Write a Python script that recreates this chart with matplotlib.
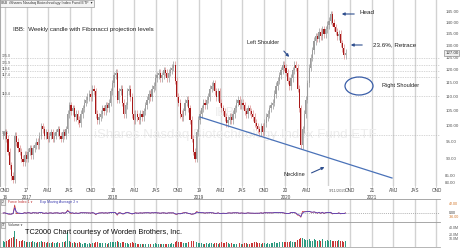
import numpy as np
import pandas as pd
import matplotlib
matplotlib.use('Agg')
import matplotlib.pyplot as plt
import matplotlib.dates as mdates
from matplotlib.patches import Ellipse

plt.rcParams['font.family'] = ['Liberation Sans', 'DejaVu Sans']

# IBB weekly closes (split adjusted), weeks ending 2016-09-23 .. 2020-09-11
closes = [
    97, 98, 96, 92, 88, 85, 84, 97, 95, 93,
    92, 90, 89, 91, 90, 92, 93, 91, 93, 94,
    95, 94, 97, 100, 99, 97, 98, 96, 97, 98,
    96, 97, 98, 99, 97, 96, 98, 97, 99, 104,
    107, 105, 106, 103, 104, 102, 101, 104, 106, 108,
    109, 110, 111, 110, 113, 112, 104, 102, 103, 104,
    106, 105, 107, 106, 108, 112, 115, 118, 119, 109,
    112, 113, 108, 104, 107, 112, 113, 110, 104, 102,
    104, 103, 102, 104, 103, 105, 107, 109, 111, 110,
    113, 114, 117, 118, 119, 117, 118, 120, 119, 117,
    119, 120, 121, 122, 116, 110, 108, 104, 103, 105,
    108, 109, 106, 102, 96, 92, 90, 98, 102, 104,
    106, 108, 107, 109, 110, 113, 114, 115, 112, 110,
    112, 108, 106, 105, 103, 101, 102, 103, 102, 104,
    106, 108, 109, 107, 108, 107, 105, 104, 106, 105,
    104, 103, 101, 100, 99, 98, 100, 98, 101, 103,
    104, 106, 107, 108, 111, 114, 116, 118, 120, 122,
    121, 119, 116, 114, 117, 120, 122, 121, 113, 106,
    94, 99, 104, 109, 115, 121, 125, 128, 132, 134,
    133, 136, 134, 137, 135, 137, 139, 141, 144, 140,
    138, 136, 134, 135, 131, 129, 126, 127,
]

volumes = [
    1.6, 1.4, 1.5, 1.8, 2.0, 2.4, 2.6, 4.2, 2.2, 1.8,
    1.7, 1.6, 1.9, 1.5, 1.3, 1.4, 1.2, 1.3, 1.5, 1.2,
    1.1, 1.2, 1.4, 1.6, 1.3, 1.2, 1.1, 1.3, 1.0, 1.1,
    1.2, 1.0, 1.1, 1.3, 1.1, 1.0, 1.2, 1.4, 1.5, 4.0,
    1.6, 1.3, 1.1, 1.2, 1.0, 1.1, 1.2, 1.0, 0.9, 1.0,
    1.1, 0.9, 1.0, 0.9, 1.1, 1.0, 1.4, 1.3, 1.1, 1.0,
    1.0, 0.9, 1.0, 0.9, 1.1, 1.2, 1.3, 1.2, 1.3, 1.5,
    1.2, 1.1, 1.3, 1.4, 1.1, 1.0, 0.9, 1.0, 1.2, 1.1,
    1.0, 0.9, 0.9, 0.8, 0.9, 0.8, 0.9, 1.0, 0.9, 0.8,
    0.9, 0.8, 1.0, 0.9, 0.8, 0.9, 0.8, 0.9, 0.8, 0.9,
    0.8, 0.9, 1.0, 0.9, 1.3, 1.5, 1.3, 1.4, 1.2, 1.1,
    1.0, 1.1, 1.2, 1.3, 1.5, 1.6, 1.4, 1.3, 1.1, 1.0,
    1.0, 0.9, 0.9, 1.0, 0.9, 1.0, 1.1, 0.9, 1.0, 1.0,
    0.9, 1.1, 1.2, 1.0, 1.1, 1.2, 1.0, 0.9, 1.0, 0.9,
    0.9, 0.8, 0.9, 1.0, 0.8, 0.9, 1.0, 1.1, 0.9, 0.8,
    1.0, 1.1, 1.2, 1.3, 1.1, 1.0, 0.9, 1.1, 1.0, 0.9,
    1.0, 0.9, 1.1, 1.0, 1.2, 1.1, 1.0, 1.3, 1.1, 1.2,
    1.2, 1.4, 1.3, 1.2, 1.5, 1.3, 1.4, 1.2, 1.8, 2.2,
    2.4, 2.3, 2.1, 1.9, 1.8, 2.0, 1.6, 1.5, 2.0, 1.8,
    1.6, 1.9, 1.5, 2.0, 1.7, 1.6, 1.9, 1.7, 1.8, 1.6,
    1.5, 1.7, 1.6, 1.8, 1.5, 1.6, 1.4, 1.5,
]

fib_levels = [125.0, 121.9, 119.6, 117.4, 110.4, 97.1]
price_ticks = [145, 140, 135, 130, 125, 120, 115, 110, 105, 100, 95, 90, 85, 83]

dates = pd.date_range('2016-09-23', periods=len(closes), freq='7D')
xd = mdates.date2num(dates)
c = np.array(closes, dtype=float)
o = np.r_[c[0], c[:-1]]
hi = np.maximum(o, c) * 1.012
lo = np.minimum(o, c) / 1.012
up = c >= o

# pixel <-> date scale of the screenshot
origin = mdates.date2num(pd.Timestamp('2016-10-01'))
ppd = 0.2363
xlim = (origin - 5 / ppd, origin + 435 / ppd)

W, H = 470, 248
fig = plt.figure(figsize=(4.7, 2.48), dpi=100)
fig.patch.set_facecolor('white')
AW = 440 / W

def box(top, bot):
    return [0, (H - bot) / H, AW, (bot - top) / H]

ax = fig.add_axes(box(0, 186))
ax.set_yscale('log')
ax.set_ylim(82.3, 150.8)
ax.set_xlim(*xlim)
ax.set_yticks([])
ax.minorticks_off()
ax.set_xticks([])
for s in ['top', 'right', 'bottom']:
    ax.spines[s].set_visible(False)
ax.spines['left'].set_color('#aaaaaa')
ax.spines['left'].set_linewidth(0.8)

quarters = pd.date_range('2016-10-01', '2021-10-01', freq='QS')
qx = mdates.date2num(quarters)
for q in qx:
    ax.axvline(q, color='#d2d2d2', lw=1.0, zorder=0)
for lv in fib_levels:
    ax.axhline(lv, color='#b0b0b0', lw=0.5, ls=(0, (1, 1.5)), zorder=0.5)
    ax.text(0.004, lv, f'{lv:.1f}', transform=ax.get_yaxis_transform(),
            fontsize=2.6, color='#555555', va='bottom', ha='left')

# watermark
ax.text(0.535, 0.273, 'iShares Nasdaq Biotechnology Index Fund ETF', transform=ax.transAxes,
        fontsize=9.6, color='#ededed', ha='center', va='center', zorder=0.2)
ax.text(0.512, 0.39, 'IBB', transform=ax.transAxes,
        fontsize=9, color='#ededed', ha='center', va='center', zorder=0.2)

# candles
wick_col = np.where(up, '#a8a8a8', '#e0a0a0')
ax.vlines(xd, lo, hi, colors=wick_col, lw=0.6, zorder=2)
body_col = np.where(up, '#9c9c9c', '#a81818')
ax.bar(xd, np.maximum(np.abs(c - o), 0.4), bottom=np.minimum(o, c), width=5,
       color=body_col, lw=0, zorder=3)

# right price axis
for p in price_ticks:
    ax.text(1.012, p, f'{p:.2f}', transform=ax.get_yaxis_transform(), fontsize=3.2,
            color='#555555', va='center', ha='left', clip_on=False)
ax.text(1.012, c[-1], f'{c[-1]:.2f}', transform=ax.get_yaxis_transform(), fontsize=3.2,
        color='#333333', va='center', ha='left', clip_on=False,
        bbox=dict(boxstyle='square,pad=0.2', fc='#eeeeee', ec='#777777', lw=0.4))

def pf(x, y):
    return (x / 440, 1 - y / 186)

# annotations
txt = dict(transform=ax.transAxes, va='center', ha='left', color='#222222')
arrow = dict(arrowstyle='-|>', color='#2f4f8f', lw=0.8, mutation_scale=4)
ax.text(*pf(13, 30), 'IBB:  Weekly candle with Fibonacci projection levels', fontsize=4.4, **txt)
ax.text(*pf(247, 43), 'Left Shoulder', fontsize=3.9, **txt)
ax.annotate('', xy=pf(291, 59), xytext=pf(282, 49), xycoords='axes fraction', arrowprops=arrow)
ax.text(*pf(360, 13), 'Head', fontsize=4.5, **txt)
ax.annotate('', xy=pf(339, 14), xytext=pf(357, 14), xycoords='axes fraction', arrowprops=arrow)
ax.text(*pf(373, 45), '23.6%, Retrace', fontsize=4.5, **txt)
ax.annotate('', xy=pf(348, 45), xytext=pf(365, 45), xycoords='axes fraction', arrowprops=arrow)
ax.text(*pf(382, 86), 'Right Shoulder', fontsize=4.1, **txt)
ax.add_patch(Ellipse(pf(359, 86), 28 / 440, 18 / 186, transform=ax.transAxes,
                     fill=False, ec='#3a5ea8', lw=0.9, zorder=4))
ax.text(*pf(283, 175), 'Neckline', fontsize=4.1, **txt)
ax.annotate('', xy=pf(327, 166), xytext=pf(309, 174), xycoords='axes fraction', arrowprops=arrow)
ax.plot([pf(200, 117)[0], pf(392, 178)[0]], [pf(200, 117)[1], pf(392, 178)[1]],
        transform=ax.transAxes, color='#4a72b8', lw=0.9, zorder=4)

# header box
ax.text(0.003, 0.992, 'IBB  iShares Nasdaq Biotechnology Index Fund ETF  \u25be', transform=ax.transAxes,
        fontsize=2.7, color='#333333', va='top', ha='left',
        bbox=dict(boxstyle='square,pad=0.3', fc='#f4f4f4', ec='#888888', lw=0.4))

# date strip
dx = fig.add_axes(box(186, 199))
dx.set_xlim(*xlim)
dx.set_ylim(0, 1)
dx.axis('off')
for q, d in zip(qx, quarters):
    if d.year == 2020 and d.month == 7:
        continue
    if d.month == 1:
        top, bot = f'{d.year % 100}', f'{d.year}'
    else:
        top = {4: 'AMJ', 7: 'JAS', 10: 'OND'}[d.month]
        bot = '16' if d.year == 2016 else ''
    dx.text(q, 0.62, top, fontsize=3.3, color='#444444', ha='center', va='center')
    if bot:
        dx.text(q, 0.15, bot, fontsize=3.3, color='#444444', ha='center', va='center')
    dx.plot([q, q], [0.9, 1.0], color='#cccccc', lw=0.6)
dx.text(xd[-1] - 35, 0.62, '9/11/2020', fontsize=3.0, color='#666666', ha='center', va='center')

# force index panel
vol = np.array(volumes)
force = np.r_[0, np.diff(c)] * vol
ema = pd.Series(force).ewm(span=2, adjust=False).mean().values
fx = fig.add_axes(box(199, 222))
fx.set_xlim(*xlim)
top_val = 0.61 * force.max() / 0.35
fx.set_ylim(-0.39 / 0.61 * top_val, top_val)
fx.set_xticks([]); fx.set_yticks([])
for s in ['right', 'bottom']:
    fx.spines[s].set_visible(False)
fx.spines['top'].set_color('#999999'); fx.spines['top'].set_linewidth(0.6)
fx.spines['left'].set_color('#aaaaaa'); fx.spines['left'].set_linewidth(0.8)
for q in qx:
    fx.axvline(q, color='#d2d2d2', lw=1.0, zorder=0)
fx.axhline(0, color='#999999', lw=0.5, ls=(0, (1.5, 1.5)), zorder=1)
fx.plot(xd, force, color='#cc3333', lw=0.5, zorder=2)
fx.plot(xd, ema, color='#4a3fc4', lw=0.55, zorder=3)
fx.text(0.005, 0.87, '2', transform=fx.transAxes, fontsize=2.5, color='#333333', va='center',
        bbox=dict(boxstyle='square,pad=0.25', fc='#eeeeee', ec='#888888', lw=0.4))
fx.text(0.018, 0.87, 'Force Index 1 \u25be', transform=fx.transAxes, fontsize=2.5,
        color='#c03030', va='center')
fx.text(0.09, 0.87, 'Exp Moving Average 2 \u25be', transform=fx.transAxes, fontsize=2.5,
        color='#3a3ab0', va='center')
for yy, lab, col in [(0.78, '42.00', '#d07020'), (0.39, '0.00', '#333333'), (0.2, '-36.00', '#d07020')]:
    fx.text(1.02, yy, lab, transform=fx.transAxes, fontsize=2.6, color=col, va='center', ha='left')

# volume panel
vx = fig.add_axes(box(222, 247))
vx.set_xlim(*xlim)
vx.set_ylim(0, 6.6)
vx.set_xticks([]); vx.set_yticks([])
for s in ['right']:
    vx.spines[s].set_visible(False)
vx.spines['top'].set_color('#999999'); vx.spines['top'].set_linewidth(0.6)
vx.spines['bottom'].set_color('#aaaaaa'); vx.spines['bottom'].set_linewidth(0.6)
vx.spines['left'].set_color('#aaaaaa'); vx.spines['left'].set_linewidth(0.8)
for q in qx:
    vx.axvline(q, color='#d2d2d2', lw=1.0, zorder=0)
vx.bar(xd, vol, width=4, color=np.where(up, '#2e9a80', '#c83838'), lw=0, zorder=2)
vx.text(0.005, 0.86, '3', transform=vx.transAxes, fontsize=2.5, color='#333333', va='center',
        bbox=dict(boxstyle='square,pad=0.25', fc='#eeeeee', ec='#888888', lw=0.4))
vx.text(0.018, 0.86, 'Volume \u25be', transform=vx.transAxes, fontsize=2.5, color='#333333', va='center')
vx.text(25 / 440, 0.6, 'TC2000 Chart courtesy of Worden Brothers, Inc.', transform=vx.transAxes,
        fontsize=5.3, color='#111111', va='center', ha='left', zorder=5)
for yy, lab in [(0.75, '40.0M'), (0.5, '20.0M'), (0.3, '10.0M')]:
    vx.text(1.02, yy, lab, transform=vx.transAxes, fontsize=2.6, color='#555555', va='center', ha='left')

fig.savefig('out.png', dpi=100)
